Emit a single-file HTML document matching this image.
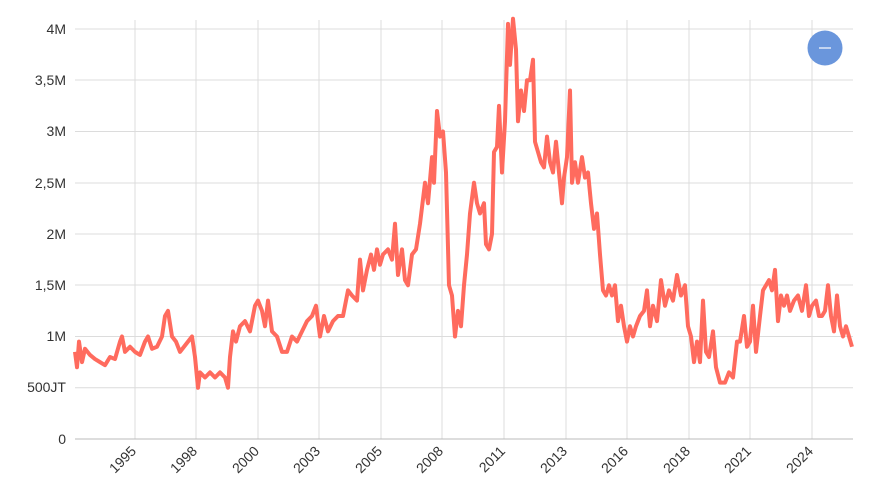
<!DOCTYPE html>
<html><head><meta charset="utf-8"><style>
html,body{margin:0;padding:0;background:#fff;}
svg{display:block;font-family:"Liberation Sans",sans-serif;}
</style></head><body>
<svg width="873" height="500" viewBox="0 0 873 500">
<g stroke="#dcdcdc" stroke-width="1">
<line x1="75" x2="853" y1="29" y2="29"/><line x1="75" x2="853" y1="80" y2="80"/>
<line x1="75" x2="853" y1="131.5" y2="131.5"/><line x1="75" x2="853" y1="183" y2="183"/>
<line x1="75" x2="853" y1="234" y2="234"/><line x1="75" x2="853" y1="285" y2="285"/>
<line x1="75" x2="853" y1="336.5" y2="336.5"/><line x1="75" x2="853" y1="387.75" y2="387.75"/>
<line x1="135" x2="135" y1="20" y2="439"/><line x1="196" x2="196" y1="20" y2="439"/>
<line x1="258" x2="258" y1="20" y2="439"/><line x1="319" x2="319" y1="20" y2="439"/>
<line x1="381" x2="381" y1="20" y2="439"/><line x1="442" x2="442" y1="20" y2="439"/>
<line x1="504" x2="504" y1="20" y2="439"/><line x1="566" x2="566" y1="20" y2="439"/>
<line x1="627" x2="627" y1="20" y2="439"/><line x1="689" x2="689" y1="20" y2="439"/>
<line x1="750" x2="750" y1="20" y2="439"/><line x1="812" x2="812" y1="20" y2="439"/>
</g>
<line x1="75" x2="853" y1="439" y2="439" stroke="#bbb"/>
<g font-size="14" fill="#333" text-anchor="end">
<text x="66" y="34">4M</text><text x="66" y="85">3,5M</text><text x="66" y="136">3M</text>
<text x="66" y="188">2,5M</text><text x="66" y="239">2M</text><text x="66" y="290">1,5M</text>
<text x="66" y="341">1M</text><text x="66" y="392">500JT</text><text x="66" y="444">0</text>
</g>
<g font-size="14" fill="#333" text-anchor="end">
<text transform="translate(137,452) rotate(-45)">1995</text>
<text transform="translate(198,452) rotate(-45)">1998</text>
<text transform="translate(260,452) rotate(-45)">2000</text>
<text transform="translate(321,452) rotate(-45)">2003</text>
<text transform="translate(383,452) rotate(-45)">2005</text>
<text transform="translate(444,452) rotate(-45)">2008</text>
<text transform="translate(506,452) rotate(-45)">2011</text>
<text transform="translate(568,452) rotate(-45)">2013</text>
<text transform="translate(629,452) rotate(-45)">2016</text>
<text transform="translate(691,452) rotate(-45)">2018</text>
<text transform="translate(752,452) rotate(-45)">2021</text>
<text transform="translate(814,452) rotate(-45)">2024</text>
</g>
<polyline transform="translate(0,439) scale(1,-102.5)" fill="none" stroke="#ff6b5e" stroke-width="4" vector-effect="non-scaling-stroke" stroke-linejoin="round"
points="75,0.85 77,0.7 79,0.95 82,0.75 85,0.88 90,0.82 95,0.78 100,0.75 105,0.72 110,0.8 115,0.78 120,0.95 122,1.0 125,0.85 130,0.9 135,0.85 140,0.82 145,0.95 148,1.0 152,0.88 157,0.9 162,1.0 165,1.2 168,1.25 172,1.0 176,0.95 180,0.85 184,0.9 188,0.95 192,1.0 195,0.8 198,0.5 200,0.65 205,0.6 210,0.65 215,0.6 220,0.65 225,0.6 228,0.5 230,0.8 233,1.05 236,0.95 240,1.1 245,1.15 250,1.05 255,1.3 258,1.35 262,1.25 265,1.1 268,1.35 272,1.05 277,1.0 282,0.85 287,0.85 292,1.0 297,0.95 302,1.05 307,1.15 312,1.2 316,1.3 320,1.0 324,1.2 328,1.05 333,1.15 338,1.2 343,1.2 348,1.45 352,1.4 357,1.35 360,1.75 363,1.45 367,1.65 371,1.8 374,1.65 377,1.85 380,1.7 383,1.8 388,1.85 392,1.75 395,2.1 398,1.6 402,1.85 405,1.55 408,1.5 412,1.8 416,1.85 420,2.1 425,2.5 428,2.3 432,2.75 434,2.5 437,3.2 440,2.95 443,3.0 446,2.6 449,1.5 452,1.4 455,1.0 458,1.25 461,1.1 464,1.5 467,1.8 470,2.2 474,2.5 477,2.3 480,2.2 484,2.3 486,1.9 489,1.85 492,2.0 494,2.8 497,2.85 499,3.25 502,2.6 505,3.1 508,4.05 510,3.65 513,4.1 516,3.8 518,3.1 521,3.4 524,3.2 527,3.5 530,3.5 533,3.7 535,2.9 538,2.8 541,2.7 544,2.65 547,2.95 550,2.7 553,2.6 556,2.9 559,2.6 562,2.3 564,2.55 567,2.75 570,3.4 572,2.5 575,2.7 578,2.5 582,2.75 585,2.55 588,2.6 591,2.3 594,2.05 597,2.2 600,1.8 603,1.45 606,1.4 609,1.5 612,1.4 615,1.5 618,1.15 621,1.3 624,1.1 627,0.95 630,1.1 633,1.0 636,1.1 640,1.2 644,1.25 647,1.45 650,1.1 653,1.3 657,1.15 661,1.55 665,1.3 669,1.45 673,1.35 677,1.6 681,1.4 685,1.5 688,1.1 691,1.0 694,0.75 697,0.95 700,0.75 703,1.35 706,0.85 709,0.8 713,1.05 716,0.7 720,0.55 725,0.55 729,0.65 733,0.6 737,0.95 740,0.95 744,1.2 747,0.9 750,0.95 753,1.3 756,0.85 760,1.2 763,1.45 766,1.5 769,1.55 772,1.45 775,1.65 778,1.15 781,1.4 784,1.3 787,1.4 790,1.25 794,1.35 798,1.4 802,1.25 806,1.5 809,1.2 812,1.3 816,1.35 819,1.2 822,1.2 825,1.25 828,1.5 831,1.2 834,1.05 837,1.4 840,1.1 843,1.0 846,1.1 849,1.0 852,0.9"/>
<circle cx="825" cy="48" r="17.5" fill="#6a96dc"/>
<line x1="819" x2="831" y1="48" y2="48" stroke="#fff" stroke-width="1.2"/>
</svg>
</body></html>
